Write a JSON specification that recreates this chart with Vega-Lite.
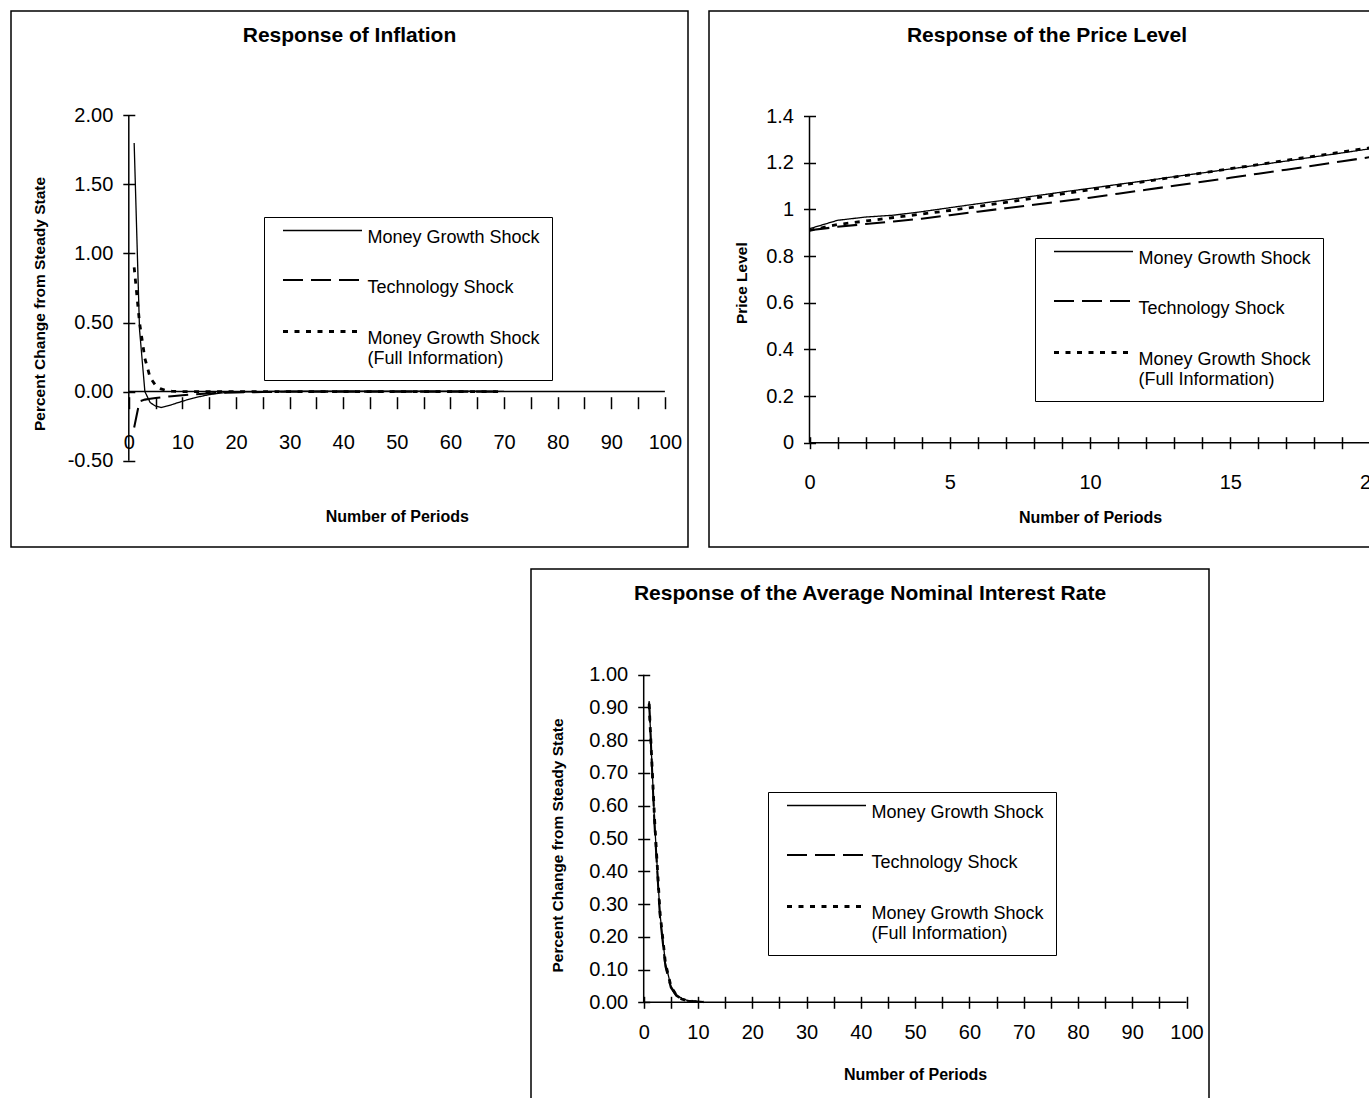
{
  "$schema": "https://vega.github.io/schema/vega-lite/v6.json",
  "padding": {"left": 10, "top": 10, "right": 0, "bottom": 0},
  "config": {
    "font": "Liberation Sans",
    "view": {"stroke": "black", "strokeWidth": 1.5},
    "axis": {"grid": false, "domain": false, "tickColor": "black", "tickWidth": 1.5, "tickSize": 12, "labelColor": "black", "labelFontSize": 20, "labelFlush": false, "labelOverlap": false, "titleColor": "black", "titleFontWeight": "bold", "titleBaseline": "middle"},
    "legend": {"orient": "none", "title": null, "symbolType": "M-0.604,-0.943H5.358", "symbolSize": 702, "symbolStrokeColor": "black", "labelFontSize": 18, "labelColor": "black", "labelOffset": 61.5, "labelLimit": 400, "labelBaseline": "alphabetic", "strokeColor": "black", "fillColor": "white", "padding": 12, "rowPadding": 28},
    "title": {"fontSize": 21, "fontWeight": "bold", "color": "black", "anchor": "middle", "frame": "group", "offset": -35, "baseline": "middle"}
  },
  "datasets": {
    "infl": [
      {"t": 1, "v": 1.80, "s": "Money Growth Shock"}, {"t": 2, "v": 0.45, "s": "Money Growth Shock"}, {"t": 3, "v": 0.0, "s": "Money Growth Shock"}, {"t": 4, "v": -0.08, "s": "Money Growth Shock"}, {"t": 5, "v": -0.105, "s": "Money Growth Shock"}, {"t": 6, "v": -0.115, "s": "Money Growth Shock"}, {"t": 7, "v": -0.105, "s": "Money Growth Shock"}, {"t": 8, "v": -0.095, "s": "Money Growth Shock"}, {"t": 9, "v": -0.082, "s": "Money Growth Shock"}, {"t": 10, "v": -0.07, "s": "Money Growth Shock"}, {"t": 11, "v": -0.058, "s": "Money Growth Shock"}, {"t": 12, "v": -0.048, "s": "Money Growth Shock"}, {"t": 13, "v": -0.038, "s": "Money Growth Shock"}, {"t": 14, "v": -0.03, "s": "Money Growth Shock"}, {"t": 15, "v": -0.022, "s": "Money Growth Shock"}, {"t": 16, "v": -0.016, "s": "Money Growth Shock"}, {"t": 17, "v": -0.011, "s": "Money Growth Shock"}, {"t": 18, "v": -0.007, "s": "Money Growth Shock"}, {"t": 19, "v": -0.004, "s": "Money Growth Shock"}, {"t": 20, "v": -0.002, "s": "Money Growth Shock"}, {"t": 25, "v": 0.0, "s": "Money Growth Shock"}, {"t": 30, "v": 0.003, "s": "Money Growth Shock"}, {"t": 40, "v": 0.003, "s": "Money Growth Shock"}, {"t": 50, "v": 0.003, "s": "Money Growth Shock"}, {"t": 60, "v": 0.003, "s": "Money Growth Shock"}, {"t": 70, "v": 0.002, "s": "Money Growth Shock"},
      {"t": 1, "v": -0.26, "s": "Technology Shock"}, {"t": 2, "v": -0.07, "s": "Technology Shock"}, {"t": 3, "v": -0.058, "s": "Technology Shock"}, {"t": 4, "v": -0.052, "s": "Technology Shock"}, {"t": 5, "v": -0.047, "s": "Technology Shock"}, {"t": 6, "v": -0.042, "s": "Technology Shock"}, {"t": 7, "v": -0.037, "s": "Technology Shock"}, {"t": 8, "v": -0.033, "s": "Technology Shock"}, {"t": 10, "v": -0.026, "s": "Technology Shock"}, {"t": 12, "v": -0.02, "s": "Technology Shock"}, {"t": 14, "v": -0.015, "s": "Technology Shock"}, {"t": 16, "v": -0.011, "s": "Technology Shock"}, {"t": 18, "v": -0.008, "s": "Technology Shock"}, {"t": 20, "v": -0.006, "s": "Technology Shock"}, {"t": 25, "v": -0.003, "s": "Technology Shock"}, {"t": 30, "v": -0.001, "s": "Technology Shock"}, {"t": 40, "v": 0, "s": "Technology Shock"}, {"t": 50, "v": 0, "s": "Technology Shock"}, {"t": 60, "v": 0, "s": "Technology Shock"}, {"t": 70, "v": 0, "s": "Technology Shock"},
      {"t": 1, "v": 0.90, "s": "Money Growth Shock (Full Information)"}, {"t": 2, "v": 0.50, "s": "Money Growth Shock (Full Information)"}, {"t": 3, "v": 0.24, "s": "Money Growth Shock (Full Information)"}, {"t": 4, "v": 0.10, "s": "Money Growth Shock (Full Information)"}, {"t": 5, "v": 0.045, "s": "Money Growth Shock (Full Information)"}, {"t": 6, "v": 0.02, "s": "Money Growth Shock (Full Information)"}, {"t": 7, "v": 0.008, "s": "Money Growth Shock (Full Information)"}, {"t": 8, "v": 0.003, "s": "Money Growth Shock (Full Information)"}, {"t": 9, "v": 0.001, "s": "Money Growth Shock (Full Information)"}, {"t": 10, "v": 0, "s": "Money Growth Shock (Full Information)"}, {"t": 20, "v": 0, "s": "Money Growth Shock (Full Information)"}, {"t": 30, "v": 0, "s": "Money Growth Shock (Full Information)"}, {"t": 40, "v": 0, "s": "Money Growth Shock (Full Information)"}, {"t": 50, "v": 0, "s": "Money Growth Shock (Full Information)"}, {"t": 60, "v": 0, "s": "Money Growth Shock (Full Information)"}, {"t": 70, "v": 0, "s": "Money Growth Shock (Full Information)"}
    ],
    "price": [
      {"t": 0, "v": 0.917, "s": "Money Growth Shock"}, {"t": 1, "v": 0.953, "s": "Money Growth Shock"}, {"t": 2, "v": 0.967, "s": "Money Growth Shock"}, {"t": 3, "v": 0.975, "s": "Money Growth Shock"}, {"t": 4, "v": 0.99, "s": "Money Growth Shock"}, {"t": 5, "v": 1.007, "s": "Money Growth Shock"}, {"t": 6, "v": 1.024, "s": "Money Growth Shock"}, {"t": 7, "v": 1.04, "s": "Money Growth Shock"}, {"t": 8, "v": 1.057, "s": "Money Growth Shock"}, {"t": 9, "v": 1.074, "s": "Money Growth Shock"}, {"t": 10, "v": 1.09, "s": "Money Growth Shock"}, {"t": 11, "v": 1.107, "s": "Money Growth Shock"}, {"t": 12, "v": 1.123, "s": "Money Growth Shock"}, {"t": 13, "v": 1.14, "s": "Money Growth Shock"}, {"t": 14, "v": 1.156, "s": "Money Growth Shock"}, {"t": 15, "v": 1.173, "s": "Money Growth Shock"}, {"t": 16, "v": 1.19, "s": "Money Growth Shock"}, {"t": 17, "v": 1.207, "s": "Money Growth Shock"}, {"t": 18, "v": 1.225, "s": "Money Growth Shock"}, {"t": 19, "v": 1.242, "s": "Money Growth Shock"}, {"t": 20, "v": 1.26, "s": "Money Growth Shock"},
      {"t": 0, "v": 0.91, "s": "Technology Shock"}, {"t": 1, "v": 0.925, "s": "Technology Shock"}, {"t": 2, "v": 0.937, "s": "Technology Shock"}, {"t": 3, "v": 0.948, "s": "Technology Shock"}, {"t": 4, "v": 0.96, "s": "Technology Shock"}, {"t": 5, "v": 0.975, "s": "Technology Shock"}, {"t": 6, "v": 0.99, "s": "Technology Shock"}, {"t": 7, "v": 1.005, "s": "Technology Shock"}, {"t": 8, "v": 1.02, "s": "Technology Shock"}, {"t": 9, "v": 1.035, "s": "Technology Shock"}, {"t": 10, "v": 1.05, "s": "Technology Shock"}, {"t": 11, "v": 1.067, "s": "Technology Shock"}, {"t": 12, "v": 1.084, "s": "Technology Shock"}, {"t": 13, "v": 1.101, "s": "Technology Shock"}, {"t": 14, "v": 1.118, "s": "Technology Shock"}, {"t": 15, "v": 1.135, "s": "Technology Shock"}, {"t": 16, "v": 1.153, "s": "Technology Shock"}, {"t": 17, "v": 1.17, "s": "Technology Shock"}, {"t": 18, "v": 1.188, "s": "Technology Shock"}, {"t": 19, "v": 1.206, "s": "Technology Shock"}, {"t": 20, "v": 1.224, "s": "Technology Shock"},
      {"t": 0, "v": 0.91, "s": "Money Growth Shock (Full Information)"}, {"t": 1, "v": 0.935, "s": "Money Growth Shock (Full Information)"}, {"t": 2, "v": 0.95, "s": "Money Growth Shock (Full Information)"}, {"t": 3, "v": 0.965, "s": "Money Growth Shock (Full Information)"}, {"t": 4, "v": 0.98, "s": "Money Growth Shock (Full Information)"}, {"t": 5, "v": 0.995, "s": "Money Growth Shock (Full Information)"}, {"t": 6, "v": 1.012, "s": "Money Growth Shock (Full Information)"}, {"t": 7, "v": 1.03, "s": "Money Growth Shock (Full Information)"}, {"t": 8, "v": 1.048, "s": "Money Growth Shock (Full Information)"}, {"t": 9, "v": 1.066, "s": "Money Growth Shock (Full Information)"}, {"t": 10, "v": 1.084, "s": "Money Growth Shock (Full Information)"}, {"t": 11, "v": 1.102, "s": "Money Growth Shock (Full Information)"}, {"t": 12, "v": 1.12, "s": "Money Growth Shock (Full Information)"}, {"t": 13, "v": 1.138, "s": "Money Growth Shock (Full Information)"}, {"t": 14, "v": 1.156, "s": "Money Growth Shock (Full Information)"}, {"t": 15, "v": 1.174, "s": "Money Growth Shock (Full Information)"}, {"t": 16, "v": 1.192, "s": "Money Growth Shock (Full Information)"}, {"t": 17, "v": 1.21, "s": "Money Growth Shock (Full Information)"}, {"t": 18, "v": 1.228, "s": "Money Growth Shock (Full Information)"}, {"t": 19, "v": 1.246, "s": "Money Growth Shock (Full Information)"}, {"t": 20, "v": 1.264, "s": "Money Growth Shock (Full Information)"}
    ],
    "rate": [
      {"t": 1, "v": 0.92, "s": "Money Growth Shock"}, {"t": 2, "v": 0.55, "s": "Money Growth Shock"}, {"t": 3, "v": 0.27, "s": "Money Growth Shock"}, {"t": 4, "v": 0.12, "s": "Money Growth Shock"}, {"t": 5, "v": 0.05, "s": "Money Growth Shock"}, {"t": 6, "v": 0.024, "s": "Money Growth Shock"}, {"t": 7, "v": 0.012, "s": "Money Growth Shock"}, {"t": 8, "v": 0.006, "s": "Money Growth Shock"}, {"t": 9, "v": 0.003, "s": "Money Growth Shock"}, {"t": 10, "v": 0.002, "s": "Money Growth Shock"}, {"t": 11, "v": 0.001, "s": "Money Growth Shock"},
      {"t": 1, "v": 0.915, "s": "Technology Shock"}, {"t": 2, "v": 0.54, "s": "Technology Shock"}, {"t": 3, "v": 0.26, "s": "Technology Shock"}, {"t": 4, "v": 0.11, "s": "Technology Shock"}, {"t": 5, "v": 0.045, "s": "Technology Shock"}, {"t": 6, "v": 0.02, "s": "Technology Shock"}, {"t": 7, "v": 0.01, "s": "Technology Shock"}, {"t": 8, "v": 0.005, "s": "Technology Shock"}, {"t": 9, "v": 0.003, "s": "Technology Shock"}, {"t": 10, "v": 0.002, "s": "Technology Shock"}, {"t": 11, "v": 0.001, "s": "Technology Shock"},
      {"t": 1, "v": 0.91, "s": "Money Growth Shock (Full Information)"}, {"t": 2, "v": 0.56, "s": "Money Growth Shock (Full Information)"}, {"t": 3, "v": 0.275, "s": "Money Growth Shock (Full Information)"}, {"t": 4, "v": 0.12, "s": "Money Growth Shock (Full Information)"}, {"t": 5, "v": 0.05, "s": "Money Growth Shock (Full Information)"}, {"t": 6, "v": 0.022, "s": "Money Growth Shock (Full Information)"}, {"t": 7, "v": 0.01, "s": "Money Growth Shock (Full Information)"}, {"t": 8, "v": 0.005, "s": "Money Growth Shock (Full Information)"}, {"t": 9, "v": 0.003, "s": "Money Growth Shock (Full Information)"}, {"t": 10, "v": 0.002, "s": "Money Growth Shock (Full Information)"}, {"t": 11, "v": 0.001, "s": "Money Growth Shock (Full Information)"}
    ]
  },
  "resolve": {"scale": {"strokeDash": "independent", "strokeWidth": "independent"}},
  "spacing": 20,
  "vconcat": [
    {
      "spacing": 19,
      "resolve": {"scale": {"strokeDash": "independent", "strokeWidth": "independent"}},
      "hconcat": [
        {
          "width": 677, "height": 536,
          "title": {"text": "Response of Inflation"},
          "layer": [
            {"data": {"values": [{}]}, "mark": {"type": "rule", "color": "black", "strokeWidth": 1.5}, "encoding": {"x": {"datum": 0}, "x2": {"datum": 100}, "y": {"datum": 0}}},
            {"data": {"values": [{}]}, "mark": {"type": "rule", "color": "black", "strokeWidth": 1.5}, "encoding": {"x": {"datum": 0}, "y": {"datum": -0.5}, "y2": {"datum": 2}}},
            {
              "data": {"name": "infl"},
              "mark": {"type": "line", "color": "black"},
              "encoding": {
                "x": {"field": "t", "type": "quantitative", "scale": {"domain": [0, 100], "range": [117.8, 653.9]},
                  "axis": {"values": [0,5,10,15,20,25,30,35,40,45,50,55,60,65,70,75,80,85,90,95,100], "tickCount": 40, "format": "d", "labelExpr": "datum.value % 10 == 0 ? datum.label : ''", "offset": -150.3, "labelPadding": 24, "title": "Number of Periods", "titleFontSize": 16, "titleY": 120}},
                "y": {"field": "v", "type": "quantitative", "scale": {"domain": [-0.5, 2], "range": [463.5, 104.3]},
                  "axis": {"values": [-0.5, 0, 0.5, 1, 1.5, 2], "labelExpr": "datum.value < 0 ? '-' + format(-datum.value, '.2f') : format(datum.value, '.2f')", "offset": -123.8, "labelPadding": 10, "title": "Percent Change from Steady State", "titleFontSize": 15.5, "titleX": -95.8, "titleY": 292.5}},
                "strokeDash": {"field": "s", "type": "nominal", "scale": {"domain": ["Money Growth Shock", "Technology Shock", "Money Growth Shock (Full Information)"], "range": [[1, 0], [20, 8], [5, 6.5]]},
                  "legend": {"legendX": 253, "legendY": 206, "labelExpr": "datum.label == 'Money Growth Shock (Full Information)' ? ['Money Growth Shock', '(Full Information)'] : datum.label"}},
                "strokeWidth": {"field": "s", "type": "nominal", "scale": {"domain": ["Money Growth Shock", "Technology Shock", "Money Growth Shock (Full Information)"], "range": [1.3, 2.8, 3.5]}}
              }
            }
          ]
        },
        {
          "width": 676, "height": 536,
          "title": {"text": "Response of the Price Level"},
          "layer": [
            {"data": {"values": [{}]}, "mark": {"type": "rule", "color": "black", "strokeWidth": 1.5}, "encoding": {"x": {"datum": 0}, "x2": {"datum": 20}, "y": {"datum": 0}}},
            {"data": {"values": [{}]}, "mark": {"type": "rule", "color": "black", "strokeWidth": 1.5}, "encoding": {"x": {"datum": 0}, "y": {"datum": 0}, "y2": {"datum": 1.4}}},
            {
              "data": {"name": "price"},
              "mark": {"type": "line", "color": "black"},
              "encoding": {
                "x": {"field": "t", "type": "quantitative", "scale": {"domain": [0, 20], "range": [100.5, 661.5]},
                  "axis": {"values": [0,1,2,3,4,5,6,7,8,9,10,11,12,13,14,15,16,17,18,19,20], "tickCount": 40, "format": "d", "labelExpr": "datum.value % 5 == 0 ? datum.label : ''", "offset": -110.3, "labelPadding": 24, "title": "Number of Periods", "titleFontSize": 16, "titleY": 80.3}},
                "y": {"field": "v", "type": "quantitative", "scale": {"domain": [0, 1.4], "range": [431.7, 105]},
                  "axis": {"values": [0, 0.2, 0.4, 0.6, 0.8, 1, 1.2, 1.4], "format": ".1~f", "offset": -106.5, "labelPadding": 10, "title": "Price Level", "titleFontSize": 15.5, "titleX": -74.5, "titleY": 271.7}},
                "strokeDash": {"field": "s", "type": "nominal", "scale": {"domain": ["Money Growth Shock", "Technology Shock", "Money Growth Shock (Full Information)"], "range": [[1, 0], [20, 8], [5, 6.5]]},
                  "legend": {"legendX": 326, "legendY": 227, "labelExpr": "datum.label == 'Money Growth Shock (Full Information)' ? ['Money Growth Shock', '(Full Information)'] : datum.label"}},
                "strokeWidth": {"field": "s", "type": "nominal", "scale": {"domain": ["Money Growth Shock", "Technology Shock", "Money Growth Shock (Full Information)"], "range": [1.3, 2.8, 3.5]}}
              }
            }
          ]
        }
      ]
    },
    {
      "spacing": 0,
      "resolve": {"scale": {"strokeDash": "independent", "strokeWidth": "independent"}},
      "hconcat": [
        {"width": 519, "height": 10, "view": {"stroke": null}, "data": {"values": []}, "mark": "point", "encoding": {}},
        {
          "width": 678, "height": 536,
          "title": {"text": "Response of the Average Nominal Interest Rate"},
          "layer": [
            {"data": {"values": [{}]}, "mark": {"type": "rule", "color": "black", "strokeWidth": 1.5}, "encoding": {"x": {"datum": 0}, "x2": {"datum": 100}, "y": {"datum": 0}}},
            {"data": {"values": [{}]}, "mark": {"type": "rule", "color": "black", "strokeWidth": 1.5}, "encoding": {"x": {"datum": 0}, "y": {"datum": 0}, "y2": {"datum": 1}}},
            {
              "data": {"name": "rate"},
              "mark": {"type": "line", "color": "black"},
              "encoding": {
                "x": {"field": "t", "type": "quantitative", "scale": {"domain": [0, 100], "range": [112.7, 655.5]},
                  "axis": {"values": [0,5,10,15,20,25,30,35,40,45,50,55,60,65,70,75,80,85,90,95,100], "tickCount": 40, "format": "d", "labelExpr": "datum.value % 10 == 0 ? datum.label : ''", "offset": -108.7, "labelPadding": 14, "title": "Number of Periods", "titleFontSize": 16, "titleY": 77.7}},
                "y": {"field": "v", "type": "quantitative", "scale": {"domain": [0, 1], "range": [433.3, 105.7]},
                  "axis": {"values": [0, 0.1, 0.2, 0.3, 0.4, 0.5, 0.6, 0.7, 0.8, 0.9, 1], "format": ".2f", "offset": -118.7, "labelPadding": 10, "title": "Percent Change from Steady State", "titleFontSize": 15.5, "titleX": -92.7, "titleY": 276}},
                "strokeDash": {"field": "s", "type": "nominal", "scale": {"domain": ["Money Growth Shock", "Technology Shock", "Money Growth Shock (Full Information)"], "range": [[1, 0], [20, 8], [5, 6.5]]},
                  "legend": {"legendX": 237, "legendY": 223, "labelExpr": "datum.label == 'Money Growth Shock (Full Information)' ? ['Money Growth Shock', '(Full Information)'] : datum.label"}},
                "strokeWidth": {"field": "s", "type": "nominal", "scale": {"domain": ["Money Growth Shock", "Technology Shock", "Money Growth Shock (Full Information)"], "range": [1.3, 2.8, 3.5]}}
              }
            }
          ]
        }
      ]
    }
  ]
}
